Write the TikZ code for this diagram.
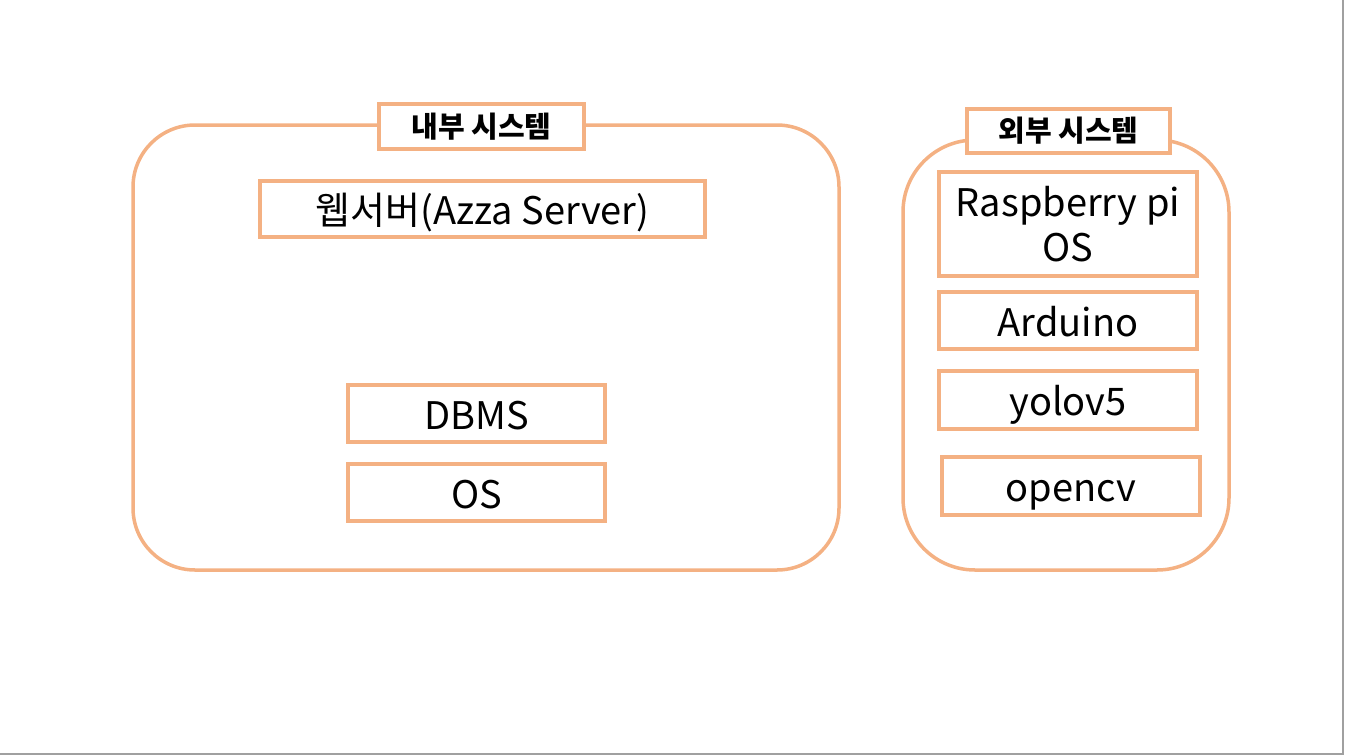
\documentclass[tikz,border=0pt]{standalone}
\usepackage{fontspec}
\setmainfont{Noto Sans CJK KR}
\usepackage{tikz}
\definecolor{boxorange}{RGB}{244,177,131}
\definecolor{edgegray}{RGB}{160,160,160}

\begin{document}
\begin{tikzpicture}[x=1pt,y=-1pt,
  frame/.style={boxorange,line width=3.5pt},
  item/.style={draw=boxorange,line width=3.5pt,fill=white,inner sep=0pt,
    align=center,font=\fontsize{38}{45}\selectfont},
  line/.style={item,text height=35pt,text depth=4pt},
  title/.style={item,font=\fontsize{29}{34}\selectfont\bfseries}]
\useasboundingbox (0,0) rectangle (1345,755);
% slide edge
\draw[edgegray,line width=2pt] (1343,0) -- (1343,754) -- (0,754);
% inner system
\draw[frame,rounded corners=62] (133,125) rectangle (839,570);
\node[title,minimum width=205,minimum height=45] (intitle) at (481.5,126.5) {내부 시스템};
\node[line,minimum width=445,minimum height=56] (web) at (482.5,209) {웹서버(Azza Server)};
\node[line,minimum width=257,minimum height=57] (dbms) at (476.5,413.5) {DBMS};
\node[line,minimum width=257,minimum height=57] (os) at (476.5,492.5) {OS};
% outer system
\draw[frame,rounded corners=72] (903,140) rectangle (1229,570);
\node[title,minimum width=203,minimum height=44] (extitle) at (1068.5,131) {외부 시스템};
\node[item,minimum width=258,minimum height=104] (rpi) at (1068,224) {Raspberry pi\\OS};
\node[line,minimum width=258,minimum height=57] (ard) at (1068,320.5) {Arduino};
\node[line,minimum width=258,minimum height=58] (yolo) at (1068,400) {yolov5};
\node[line,minimum width=258,minimum height=58] (cv) at (1071,486) {opencv};
\end{tikzpicture}
\end{document}
